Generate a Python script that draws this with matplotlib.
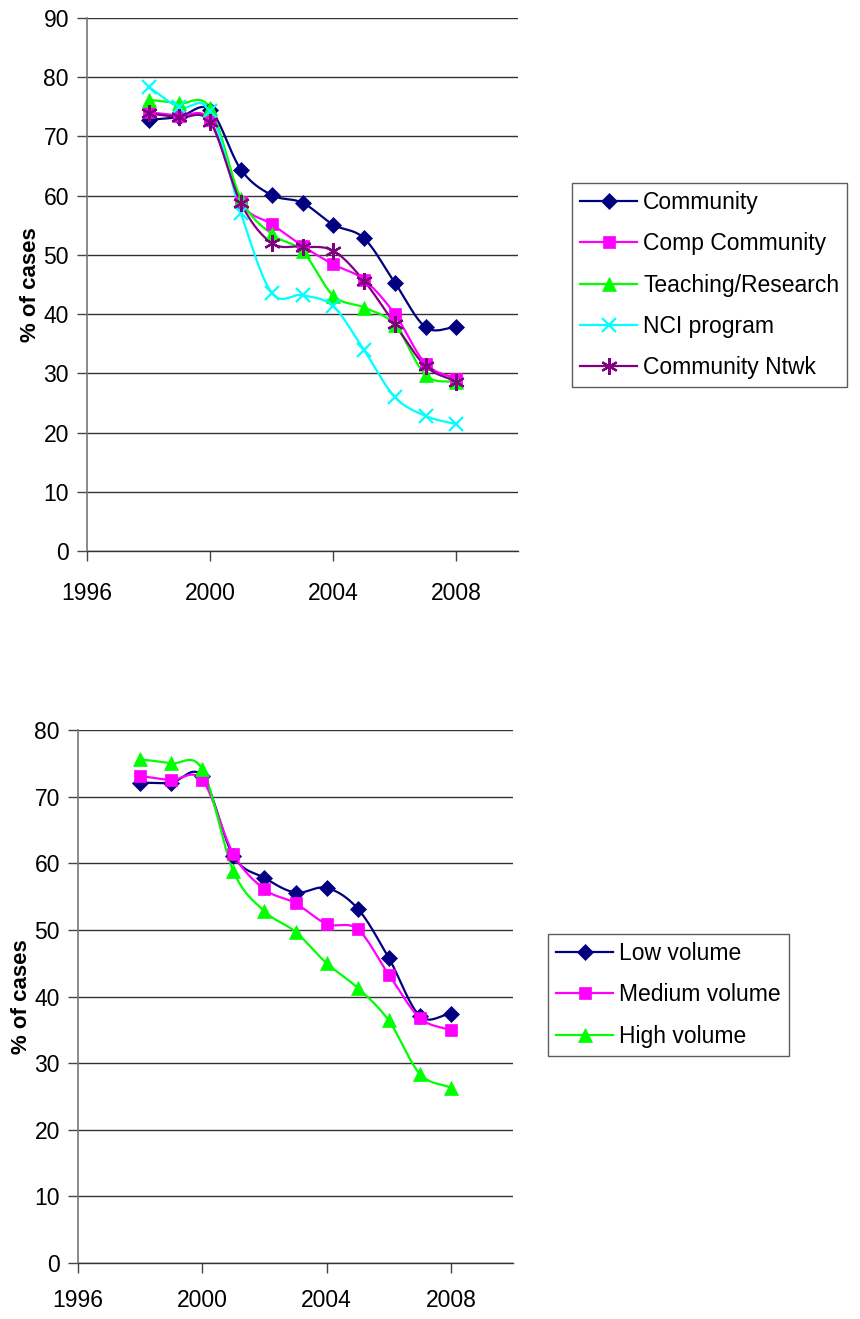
import numpy as np
import matplotlib
matplotlib.use("Agg")
import matplotlib.pyplot as plt
from matplotlib.lines import Line2D

plt.rcParams['font.family'] = ['Liberation Sans', 'DejaVu Sans']

years = [1998, 1999, 2000, 2001, 2002, 2003, 2004, 2005, 2006, 2007, 2008]

# Top chart: hospital type
community = [72.8, 73.3, 74.5, 64.4, 60.1, 58.8, 55.1, 52.8, 45.3, 37.8, 37.8]
comp_community = [74.1, 73.5, 72.7, 58.9, 55.2, 51.5, 48.4, 45.8, 40.0, 31.6, 29.1]
teaching = [76.2, 75.6, 74.8, 59.5, 53.5, 50.6, 43.1, 41.1, 38.2, 29.7, 28.5]
nci = [78.4, 74.9, 74.3, 57.0, 43.6, 43.2, 41.3, 33.9, 26.0, 22.8, 21.4]
comm_ntwk = [73.9, 73.2, 72.4, 58.7, 52.0, 51.4, 50.7, 45.6, 38.3, 31.2, 28.6]
top_labels = ["Community", "Comp Community", "Teaching/Research", "NCI program", "Community Ntwk"]

# Bottom chart: volume
low_vol = [72.1, 72.1, 73.1, 61.1, 57.8, 55.6, 56.3, 53.2, 45.8, 37.1, 37.4]
med_vol = [73.1, 72.5, 72.5, 61.4, 56.1, 54.0, 50.9, 50.1, 43.3, 36.8, 34.9]
high_vol = [75.6, 75.0, 74.1, 58.8, 52.8, 49.7, 45.0, 41.3, 36.4, 28.4, 26.3]
bottom_labels = ["Low volume", "Medium volume", "High volume"]

x_ticks = [1996, 2000, 2004, 2008]

NAVY = "#000080"
MAG = "#FF00FF"
GRN = "#00FF00"
CYN = "#00FFFF"
PUR = "#800080"
STAR = (6, 2, 0)
FS = 16.5


def smooth(xs, ys, n=20):
    xs = np.asarray(xs, float)
    ys = np.asarray(ys, float)
    px = np.concatenate([[2 * xs[0] - xs[1]], xs, [2 * xs[-1] - xs[-2]]])
    py = np.concatenate([[2 * ys[0] - ys[1]], ys, [2 * ys[-1] - ys[-2]]])
    ox, oy = [], []
    t = np.linspace(0, 1, n, endpoint=False)
    for i in range(1, len(px) - 2):
        for P, out in ((px, ox), (py, oy)):
            p0, p1, p2, p3 = P[i - 1], P[i], P[i + 1], P[i + 2]
            out.extend(0.5 * ((2 * p1) + (-p0 + p2) * t
                              + (2 * p0 - 5 * p1 + 4 * p2 - p3) * t ** 2
                              + (-p0 + 3 * p1 - 3 * p2 + p3) * t ** 3))
    ox.append(xs[-1])
    oy.append(ys[-1])
    return np.array(ox), np.array(oy)


def draw(ax, series, ymax, xpad):
    handles = []
    for ys, color, marker, ms, label in series:
        sx, sy = smooth(years, ys)
        ax.plot(sx, sy, color=color, lw=1.6, zorder=3, solid_capstyle='round')
        mew = 1.6 if marker in ('x', STAR) else 0.5
        ax.plot(years, ys, ls='none', marker=marker, ms=ms, color=color,
                mec=color, mew=mew, zorder=4)
        handles.append(Line2D([], [], color=color, lw=1.6, marker=marker, ms=ms,
                              mec=color, mew=mew, label=label))
    ax.set_xlim(1996, 2010)
    ax.set_ylim(0, ymax)
    ax.set_xticks(x_ticks)
    ax.set_yticks(np.arange(0, ymax + 1, 10))
    ax.yaxis.grid(True, color="#333333", lw=1.0)
    ax.set_axisbelow(True)
    for s in ('top', 'right'):
        ax.spines[s].set_visible(False)
    ax.spines['left'].set_color('#777777')
    ax.spines['left'].set_linewidth(1.2)
    ax.spines['bottom'].set_color('#333333')
    ax.spines['bottom'].set_linewidth(1.0)
    ax.tick_params(axis='both', labelsize=FS, length=7, width=1.0,
                   color='#444444', pad=6)
    ax.tick_params(axis='x', pad=xpad)
    ax.set_ylabel("% of cases", fontsize=16, fontweight='bold', labelpad=2)
    return handles


def legend(handles, x, y):
    leg = fig.legend(handles=handles, loc='upper left',
                     bbox_to_anchor=(x / 860, 1 - y / 1319),
                     fontsize=FS, frameon=True, fancybox=False, edgecolor='#333333',
                     handlelength=2.5, handletextpad=0.25, labelspacing=0.8,
                     borderpad=0.35, borderaxespad=0.0)
    leg.get_frame().set_linewidth(1.0)
    return leg


fig = plt.figure(figsize=(8.6, 13.19), dpi=100)

ax1 = fig.add_axes([87 / 860, 1 - 551 / 1319, 431 / 860, 533 / 1319])
h1 = draw(ax1, [
    (community, NAVY, 'D', 8, top_labels[0]),
    (comp_community, MAG, 's', 8.5, top_labels[1]),
    (teaching, GRN, '^', 10, top_labels[2]),
    (nci, CYN, 'x', 10, top_labels[3]),
    (comm_ntwk, PUR, STAR, 12, top_labels[4]),
], 90, 15)
legend(h1, 572, 183)

ax2 = fig.add_axes([78 / 860, 1 - 1263 / 1319, 435 / 860, 533 / 1319])
h2 = draw(ax2, [
    (low_vol, NAVY, 'D', 8, bottom_labels[0]),
    (med_vol, MAG, 's', 8.5, bottom_labels[1]),
    (high_vol, GRN, '^', 10, bottom_labels[2]),
], 80, 12)
legend(h2, 548, 934)

fig.savefig("out.png", dpi=100)
